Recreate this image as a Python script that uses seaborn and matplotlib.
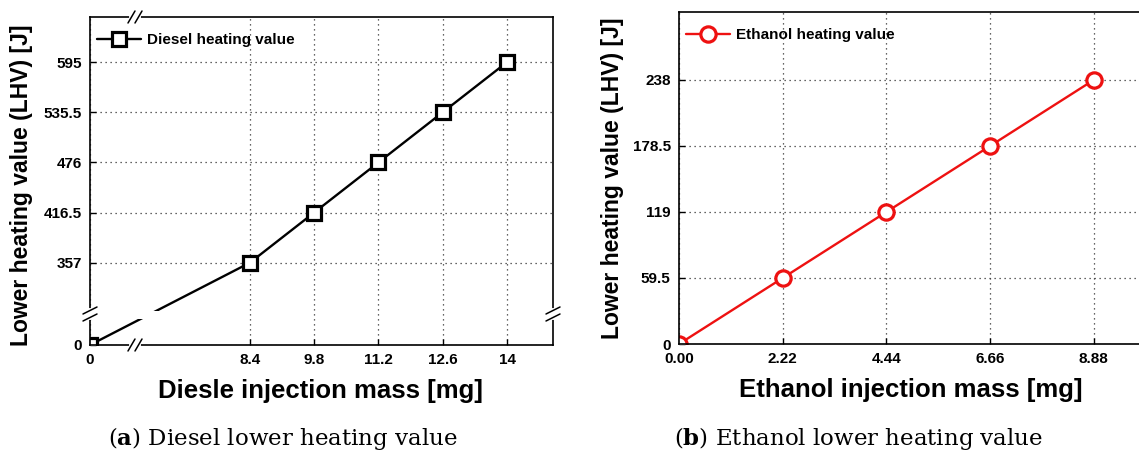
import numpy as np
import pandas as pd
import matplotlib
matplotlib.use("Agg")
import matplotlib.pyplot as plt
from matplotlib.patches import Rectangle
import seaborn as sns

# ---- data ----
diesel_mass = [0, 8.4, 9.8, 11.2, 12.6, 14]
diesel_lhv = [0, 357, 416.5, 476, 535.5, 595]
diesel_xticklabels = ["0", "8.4", "9.8", "11.2", "12.6", "14"]
diesel_yticklabels = ["0", "357", "416.5", "476", "535.5", "595"]

ethanol_mass = [0.0, 2.22, 4.44, 6.66, 8.88]
ethanol_lhv = [0, 59.5, 119, 178.5, 238]
ethanol_xticklabels = ["0.00", "2.22", "4.44", "6.66", "8.88"]
ethanol_yticklabels = ["0", "59.5", "119", "178.5", "238"]

sns.set_style("ticks")
plt.rcParams["font.family"] = ["Liberation Sans", "DejaVu Sans"]
plt.rcParams["font.weight"] = "bold"
plt.rcParams["mathtext.fontset"] = "dejavuserif"
for key in ("text.color", "axes.labelcolor", "xtick.color", "ytick.color",
            "xtick.labelcolor", "ytick.labelcolor"):
    plt.rcParams[key] = "black"

W, H = 1139, 455
fig = plt.figure(figsize=(W / 100, H / 100), dpi=100)
ax1 = fig.add_axes([90 / W, 1 - 345 / H, 463 / W, 328 / H])
ax2 = fig.add_axes([679 / W, 1 - 344 / H, 467 / W, 332 / H])

RED = "#ee1111"

# ---- diesel panel ----
df_d = pd.DataFrame({"mass": diesel_mass, "lhv": diesel_lhv})
sns.lineplot(data=df_d, x="mass", y="lhv", ax=ax1, color="black", lw=1.7,
             marker="s", markersize=10, markerfacecolor="white",
             markeredgecolor="black", markeredgewidth=2.3,
             label="Diesel heating value")

# compressed lower ranges (broken axes)
XF, KX = 8.4, 0.4143
YF, KY = 357.0, 0.2734


def fx(x):
    x = np.asarray(x, dtype=float)
    return np.where(x < XF, XF - (XF - x) * KX, x)


def ix(u):
    u = np.asarray(u, dtype=float)
    return np.where(u < XF, XF - (XF - u) / KX, u)


def fy(y):
    y = np.asarray(y, dtype=float)
    return np.where(y < YF, YF - (YF - y) * KY, y)


def iy(u):
    u = np.asarray(u, dtype=float)
    return np.where(u < YF, YF - (YF - u) / KY, u)


ax1.set_xscale("function", functions=(fx, ix))
ax1.set_yscale("function", functions=(fy, iy))
ax1.set_xlim(0, 15)
ax1.set_ylim(0, 648.5)
ax1.set_xticks(diesel_mass)
ax1.set_xticklabels(diesel_xticklabels)
ax1.set_yticks(diesel_lhv)
ax1.set_yticklabels(diesel_yticklabels)
ax1.minorticks_off()

# ---- ethanol panel ----
df_e = pd.DataFrame({"mass": ethanol_mass, "lhv": ethanol_lhv})
sns.lineplot(data=df_e, x="mass", y="lhv", ax=ax2, color=RED, lw=1.7,
             marker="o", markersize=11, markerfacecolor="white",
             markeredgecolor=RED, markeredgewidth=2.3,
             label="Ethanol heating value")
ax2.set_xlim(0, 10)
ax2.set_ylim(0, 299.3)
ax2.set_xticks(ethanol_mass)
ax2.set_xticklabels(ethanol_xticklabels)
ax2.set_yticks(ethanol_lhv)
ax2.set_yticklabels(ethanol_yticklabels)

for ax in (ax1, ax2):
    ax.set_xlabel("")
    ax.set_ylabel("")
    ax.grid(True, linestyle=(0, (1, 3)), color="#333333", linewidth=0.9)
    ax.tick_params(direction="in", length=4, width=1, pad=6, labelsize=11,
                   colors="black")
    for s in ax.spines.values():
        s.set_visible(True)
        s.set_linewidth(1.2)
        s.set_color("black")
    for lbl in ax.get_xticklabels() + ax.get_yticklabels():
        lbl.set_fontweight("bold")
    ax.legend(loc="center left", bbox_to_anchor=(7 / (ax.get_position().width * W),
                                                 1 - 23 / (ax.get_position().height * H)),
              frameon=False, borderpad=0, borderaxespad=0, handlelength=2.9,
              handletextpad=0.35, labelcolor="black",
              prop={"weight": "bold", "size": 11})

# ---- break marks on the diesel axes ----
wpx = ax1.get_position().width * W
hpx = ax1.get_position().height * H


def break_mark(ax, cx, cy, horizontal):
    """Draw a '//' break on a spine at axes fraction (cx, cy)."""
    kw = dict(transform=ax.transAxes, clip_on=False, zorder=10)
    if horizontal:
        ax.plot([cx - 4 / wpx, cx + 4 / wpx], [cy, cy], color="white", lw=3, **kw)
        for off in (-3.5, 3.5):
            ax.plot([cx + (off - 3.5) / wpx, cx + (off + 3.5) / wpx],
                    [cy - 6 / hpx, cy + 6 / hpx], color="black", lw=1.1, **kw)
    else:
        ax.plot([cx, cx], [cy - 4 / hpx, cy + 4 / hpx], color="white", lw=3, **kw)
        for off in (-3.5, 3.5):
            ax.plot([cx - 7 / wpx, cx + 7 / wpx],
                    [cy + (off - 3.5) / hpx, cy + (off + 3.5) / hpx],
                    color="black", lw=1.1, **kw)


bx = (135 - 90) / wpx
by = (345 - 314) / hpx
break_mark(ax1, bx, 0, True)
break_mark(ax1, bx, 1, True)
break_mark(ax1, 0, by, False)
break_mark(ax1, 1, by, False)

# gap in the curve where it crosses the broken region
ax1.add_patch(Rectangle((0.01, (345 - 319) / hpx), 0.3, 8.5 / hpx,
                        transform=ax1.transAxes, facecolor="white",
                        edgecolor="none", zorder=3))

# ---- axis titles and captions ----
fig.text(22 / W, 1 - 185 / H, "Lower heating value (LHV) [J]", rotation=90,
         ha="center", va="center", fontsize=16.5, fontweight="bold")
fig.text(321 / W, 1 - 391 / H, "Diesle injection mass [mg]",
         ha="center", va="center", fontsize=18.5, fontweight="bold")
fig.text(612 / W, 1 - 178 / H, "Lower heating value (LHV) [J]", rotation=90,
         ha="center", va="center", fontsize=16.5, fontweight="bold")
fig.text(911 / W, 1 - 390 / H, "Ethanol injection mass [mg]",
         ha="center", va="center", fontsize=18.5, fontweight="bold")

fig.text(283 / W, 1 - 438 / H, r"($\mathbf{a}$) Diesel lower heating value",
         ha="center", va="center", fontsize=16.5, fontweight="normal",
         family="DejaVu Serif")
fig.text(858 / W, 1 - 438 / H, r"($\mathbf{b}$) Ethanol lower heating value",
         ha="center", va="center", fontsize=16.5, fontweight="normal",
         family="DejaVu Serif")

fig.savefig("out.png", dpi=100)
